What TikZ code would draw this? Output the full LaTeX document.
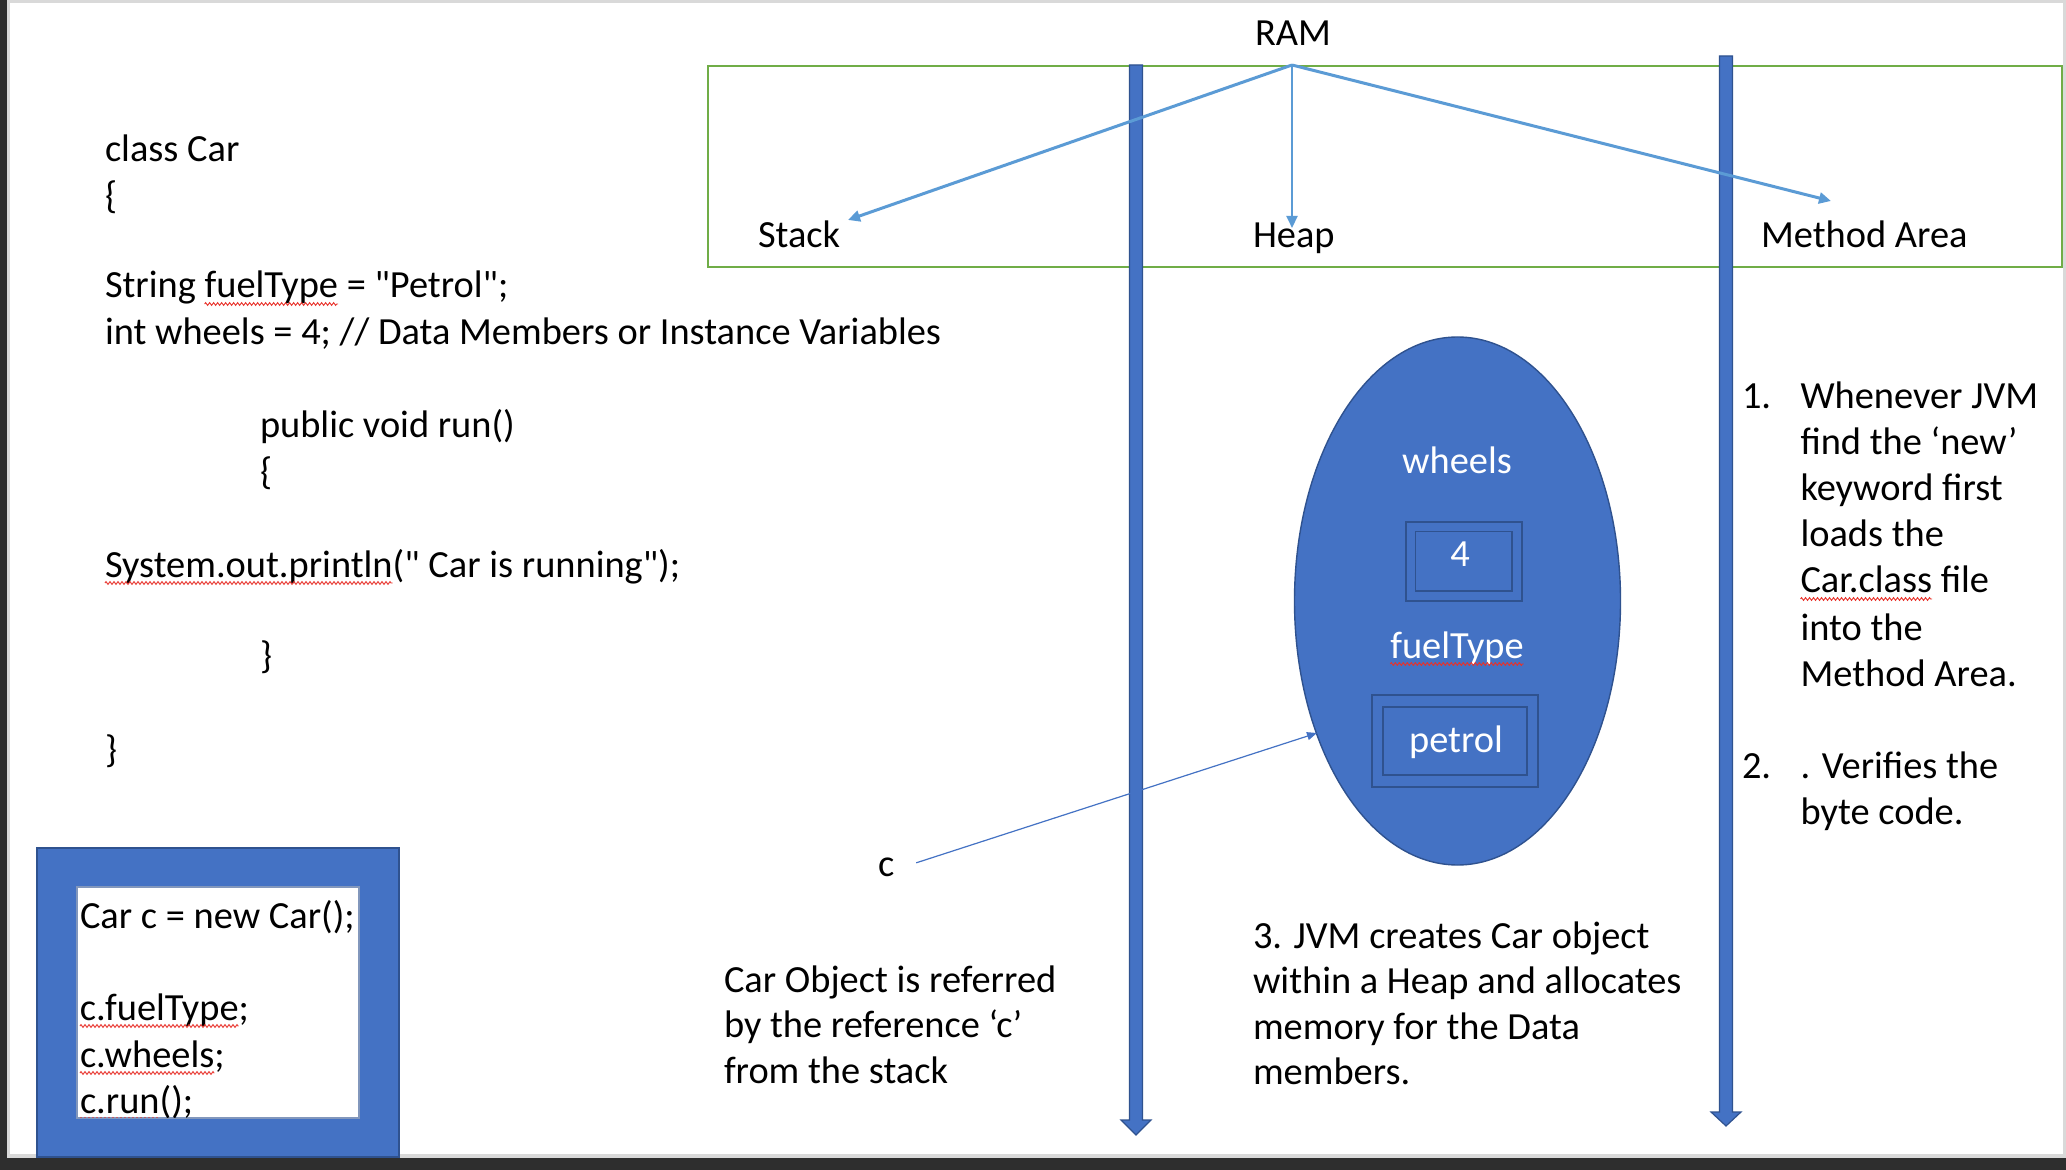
\documentclass[tikz,border=0pt]{standalone}
\usepackage{fontspec}
\setmainfont{Carlito}
\newfontfamily\plaincal{Carlito}
\usetikzlibrary{arrows.meta,decorations.pathmorphing,shapes.geometric}
\definecolor{ramgreen}{HTML}{70AD47}
\definecolor{ltblue}{HTML}{5B9BD5}
\definecolor{objblue}{HTML}{4472C4}
\definecolor{edgeblue}{HTML}{2F528F}
\definecolor{framedark}{HTML}{2E2E2E}
\definecolor{framelight}{HTML}{D9D9D9}
\definecolor{spell}{HTML}{E8312A}
\newcommand\spl[1]{\tikz[baseline=(w.base)]{\node[inner sep=0pt,outer sep=0pt,anchor=base](w){#1};\draw[overlay,spell,line width=0.45pt,decorate,decoration={zigzag,segment length=2pt,amplitude=0.7pt}]([yshift=-3pt]w.base west)--([yshift=-3pt]w.base east);}}
\begin{document}
\begin{tikzpicture}[x=0.5pt,y=-0.5pt,font=\plaincal\fontsize{19.2}{23}\selectfont,
  lbl/.style={anchor=base west,inner sep=0pt,outer sep=0pt},
  ctr/.style={anchor=base,inner sep=0pt,outer sep=0pt,text=white},
  ramarrow/.style={ltblue,line width=1.5pt,-{Triangle[length=6pt,width=5.5pt]}},
  bar/.style={fill=objblue,draw=edgeblue,line width=0.6pt},
  cell/.style={draw=edgeblue,line width=0.8pt}]
\useasboundingbox (0,0) rectangle (2066,1170);
% page frame
\fill[white] (0,0) rectangle (2066,1170);
\fill[framelight] (0,0) rectangle (2066,3);
\fill[framelight] (7,0) rectangle (10,1158);
\fill[framelight] (0,1154) rectangle (2066,1158);
\fill[framelight] (2063,0) rectangle (2066,1158);
\fill[framedark] (0,0) rectangle (7,1170);
\fill[framedark] (0,1158) rectangle (2066,1170);
% RAM box
\draw[ramgreen,line width=1pt] (707.5,66) rectangle (2062,267);
% vertical block arrows
\draw[bar] (1129.5,65) -- (1142.5,65) -- (1142.5,1120) -- (1151,1120) -- (1136,1135) -- (1121,1120) -- (1129.5,1120) -- cycle;
\draw[bar] (1719.5,56) -- (1732.5,56) -- (1732.5,1112) -- (1741,1112) -- (1726,1126) -- (1711,1112) -- (1719.5,1112) -- cycle;
% labels in RAM box
\node[lbl] (ram) at (1255,46) {RAM};
\node[lbl] (stack) at (758,248) {Stack};
\node[lbl] (heap) at (1253,248) {Heap};
\node[lbl] (method) at (1761,248) {Method Area};
\coordinate (ramtip) at (1292,65);
\coordinate (stacktip) at (848,220);
\coordinate (heaptip) at (1292,228);
\coordinate (methodtip) at (1831,201);
\draw[ramarrow] (ramtip) -- (stacktip);
\draw[ramarrow,line width=1pt] (ramtip) -- (heaptip);
\draw[ramarrow] (ramtip) -- (methodtip);
% class code
\node[lbl] (l1) at (105,162) {class Car};
\node[lbl] (l2) at (105,209) {\{};
\node[lbl] (l3) at (105,298) {String \spl{fuelType} = "Petrol";};
\node[lbl] (l4) at (105,345) {int wheels = 4; // Data Members or Instance Variables};
\node[lbl] (l5) at (260,438) {public void run()};
\node[lbl] (l6) at (260,485) {\{};
\node[lbl] (l7) at (105,577) {\spl{System.out.println}(" Car is running");};
\node[lbl] (l8) at (260,668) {\}};
\node[lbl] (l9) at (105,762) {\}};
% object in heap
\node[ellipse,fill=objblue,draw=edgeblue,line width=0.7pt,minimum width=163pt,minimum height=264pt,inner sep=0pt] (obj) at (1457.5,601) {};
\node[ctr] (wheels) at (1457,474) {wheels};
\draw[cell] (1406,522) rectangle (1522,601);
\draw[cell] (1415.5,531.5) rectangle (1512,591);
\node[ctr] (four) at (1460,567) {4};
\node[ctr] (fuel) at (1457,658) {\spl{fuelType}};
\draw[cell] (1372,695) rectangle (1538,787);
\draw[cell] (1383,707) rectangle (1527,775);
\node[ctr] (petrol) at (1456,752) {petrol};
% reference c
\node[lbl] (c) at (878,876) {c};
\coordinate (objin) at (1317,733);
\draw[objblue,line width=0.6pt,-{Triangle[length=5pt,width=4pt]}] ([xshift=11pt,yshift=2pt]c.east) -- (objin);
% captions
\node[lbl] (r1) at (724,992) {Car Object is referred};
\node[lbl] (r2) at (724,1037) {by the reference ‘c’};
\node[lbl] (r3) at (724,1083) {from the stack};
\node[lbl] (j1) at (1253,948) {3. JVM creates Car object};
\node[lbl] (j2) at (1253,993) {within a Heap and allocates};
\node[lbl] (j3) at (1253,1039) {memory for the Data};
\node[lbl] (j4) at (1253,1084) {members.};
% numbered list
\node[lbl] (n1) at (1742,409) {1.};
\node[lbl] (m1) at (1800.5,409) {Whenever JVM};
\node[lbl] (m2) at (1800.5,455) {find the ‘new’};
\node[lbl] (m3) at (1800.5,501) {keyword first};
\node[lbl] (m4) at (1800.5,547) {loads the};
\node[lbl] (m5) at (1800.5,593) {\spl{Car.class} file};
\node[lbl] (m6) at (1800.5,640) {into the};
\node[lbl] (m7) at (1800.5,686.5) {Method Area.};
\node[lbl] (n2) at (1742,778) {2.};
\node[lbl] (m8) at (1800.5,778) {. Verifies the};
\node[lbl] (m9) at (1800.5,824) {byte code.};
% usage box
\draw[fill=objblue,draw=edgeblue,line width=0.7pt] (37,848) rectangle (399,1157);
\draw[fill=white,draw=edgeblue!60,line width=0.7pt] (77,887) rectangle (359,1118);
\begin{scope}
\clip (77,887) rectangle (359,1117);
\node[lbl] (u1) at (80,928) {Car c = new Car();};
\node[lbl] (u2) at (80,1020) {\spl{c.fuelType};};
\node[lbl] (u3) at (80,1067) {\spl{c.wheels};};
\node[lbl] (u4) at (80,1113) {\spl{c.run}();};
\end{scope}
\end{tikzpicture}
\end{document}
